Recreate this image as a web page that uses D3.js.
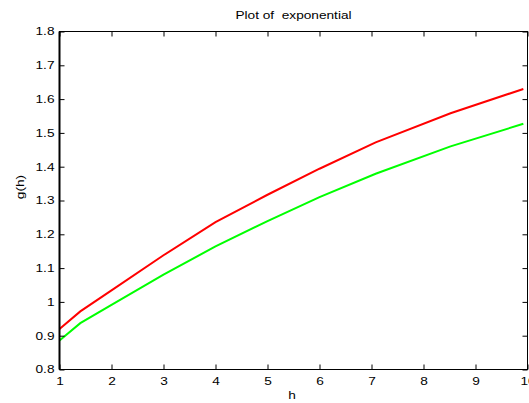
<!DOCTYPE html>
<html><head><meta charset="utf-8">
<script src="https://cdn.jsdelivr.net/npm/d3@7"></script>
<style>body{margin:0;background:#fff;overflow:hidden}svg{display:block}text{font-family:"Liberation Sans",Arial,sans-serif}</style>
</head><body>
<svg id="c" width="529" height="403"></svg>
<script>
const hValues = [1, 1.4, 2, 3, 4, 5, 6, 7.08, 8.52, 9.92];
const redSeries = [0.92, 0.972, 1.034, 1.138, 1.236, 1.317, 1.394, 1.472, 1.558, 1.630];
const greenSeries = [0.886, 0.937, 0.991, 1.081, 1.164, 1.239, 1.310, 1.379, 1.460, 1.527];
const xTicks = [1, 2, 3, 4, 5, 6, 7, 8, 9, 10];
const yTicks = [0.8, 0.9, 1.0, 1.1, 1.2, 1.3, 1.4, 1.5, 1.6, 1.7, 1.8];
const yTickLabels = ["0.8", "0.9", "1", "1.1", "1.2", "1.3", "1.4", "1.5", "1.6", "1.7", "1.8"];

const FS = "10.5px";
const STRETCH = 1.3;
const svg = d3.select("#c");
const L = 59.5, R = 527.5, T = 31.5, B = 369.5;
const x = d3.scaleLinear().domain([1, 10]).range([L, R]);
const y = d3.scaleLinear().domain([0.8, 1.8]).range([B, T]);

const line = d3.line().x((d, i) => x(hValues[i])).y(d => y(d));
svg.append("path").datum(redSeries).attr("d", line).attr("fill", "none").attr("stroke", "#ff0000").attr("stroke-width", 2);
svg.append("path").datum(greenSeries).attr("d", line).attr("fill", "none").attr("stroke", "#00ff00").attr("stroke-width", 2);

const tl = 5;
const axB = d3.axisBottom(x).tickValues(xTicks).tickSize(-tl).tickPadding(8).tickFormat(d3.format("d"));
const axT = d3.axisTop(x).tickValues(xTicks).tickSize(-tl).tickFormat("");
const axL = d3.axisLeft(y).tickValues(yTicks).tickSize(-tl).tickPadding(5).tickFormat((d, i) => yTickLabels[i]);
const axR = d3.axisRight(y).tickValues(yTicks).tickSize(-tl).tickFormat("");

function style(g) {
  g.selectAll(".tick line").attr("stroke", "#000").attr("stroke-width", 1);
  g.selectAll("text").attr("fill", "#000").style("font-size", FS).style("font-family", '"Liberation Sans",Arial,sans-serif');
}
svg.append("g").attr("transform", `translate(0,${B})`).call(axB).call(style);
svg.append("g").attr("transform", `translate(0,${T})`).call(axT).call(style);
svg.append("g").attr("transform", `translate(${L},0)`).call(axL).call(style);
svg.append("g").attr("transform", `translate(${R},0)`).call(axR).call(style);
svg.selectAll("path.domain").remove();
svg.append("rect").attr("x", L).attr("y", T).attr("width", R - L).attr("height", B - T).attr("fill", "none").attr("stroke", "#000").attr("stroke-width", 1);
svg.append("line").attr("x1", L).attr("x2", L).attr("y1", T).attr("y2", B).attr("stroke", "#000").attr("stroke-width", 2);

svg.append("text").attr("x", (L + R) / 2).attr("y", 19).attr("text-anchor", "middle").style("font-size", FS).attr("xml:space", "preserve").style("white-space", "pre").text("Plot of  exponential");
svg.append("text").attr("x", 292).attr("y", 399).attr("text-anchor", "middle").style("font-size", FS).text("h");
svg.append("text").attr("transform", `translate(24,187) rotate(-90)`).attr("text-anchor", "middle").style("font-size", FS).text("g(h)");

svg.selectAll("text").each(function() {
  const w = this.getComputedTextLength();
  if (w > 0) d3.select(this).attr("textLength", w * STRETCH).attr("lengthAdjust", "spacingAndGlyphs");
});
</script>
</body></html>
